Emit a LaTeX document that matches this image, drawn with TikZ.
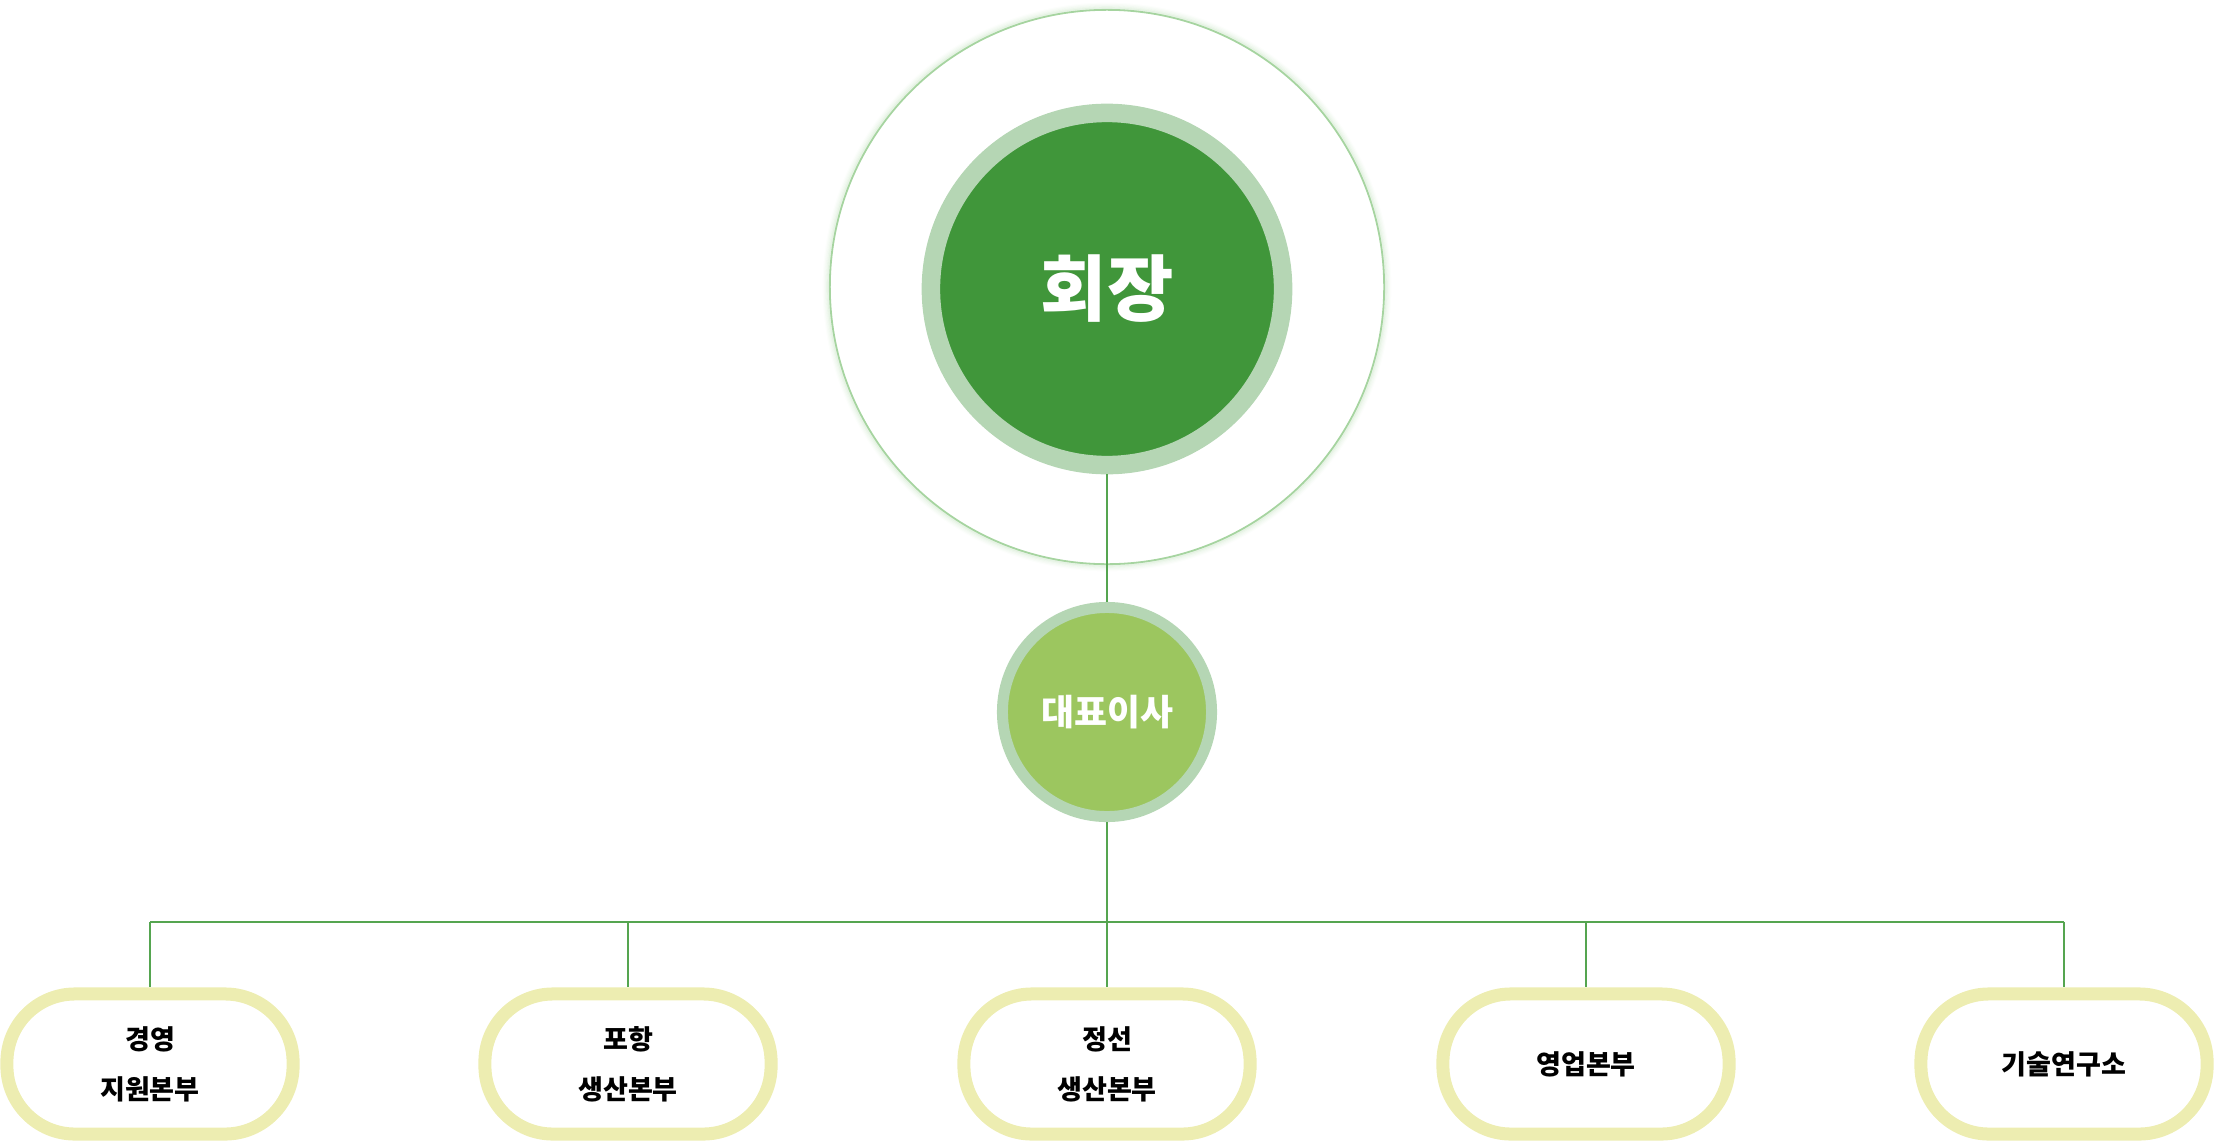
\documentclass[tikz,border=0pt]{standalone}
\usepackage{fontspec}
\setmainfont{Noto Sans CJK KR}
\definecolor{bossgreen}{HTML}{40963A}
\definecolor{ceogreen}{HTML}{9CC65F}
\definecolor{ringgreen}{HTML}{B5D6B4}
\definecolor{halogreen}{HTML}{A6D4A0}
\definecolor{linkgreen}{HTML}{55A550}
\definecolor{unityellow}{HTML}{EDEDB1}

\begin{document}
\begin{tikzpicture}[x=0.01cm,y=-0.01cm,
    ring/.style={circle,draw=ringgreen,inner sep=0pt,text=white},
    unit/.style={rectangle,rounded corners=0.68cm,draw=unityellow,line width=0.13cm,
        minimum width=2.86cm,minimum height=1.40cm,align=center,
        font=\fontsize{7.7}{14.2}\selectfont\bfseries,text=black},
    link/.style={draw=linkgreen,line width=0.02cm}]
    \useasboundingbox (0,0) rectangle (2214,1142);

    % outer halo round the top
    \foreach \d/\o in {5/0.03,4/0.05,3/0.08,2/0.12,1/0.18}
        \draw[halogreen,opacity=\o,line width=0.025cm] (1107,287) circle ({2.77cm+\d*0.012cm});
    \draw[halogreen,line width=0.018cm] (1107,287) circle (2.77cm);

    \node[ring,fill=bossgreen,line width=0.185cm,minimum size=3.52cm,
        font=\fontsize{20.5}{24}\selectfont\bfseries] at (1107,289) (boss) {회장};
    \node[ring,fill=ceogreen,line width=0.11cm,minimum size=2.09cm,
        font=\fontsize{10.2}{12}\selectfont\bfseries] at (1107,712) (ceo) {대표이사};

    \node[unit] at (150,1064) (u1) {경영\\지원본부};
    \node[unit] at (628,1064) (u2) {포항\\생산본부};
    \node[unit] at (1107,1064) (u3) {정선\\생산본부};
    \node[unit] at (1586,1064) (u4) {영업본부};
    \node[unit] at (2064,1064) (u5) {기술연구소};

    \coordinate (bus) at (1107,922);

    \draw[link] (boss.south) -- (ceo.north);
    \draw[link] (ceo.south) -- (bus);
    \draw[link] (u1.north |- bus) -- (u5.north |- bus);
    \foreach \i in {1,...,5}
        \draw[link] (u\i.north |- bus) -- (u\i.north);
\end{tikzpicture}
\end{document}
